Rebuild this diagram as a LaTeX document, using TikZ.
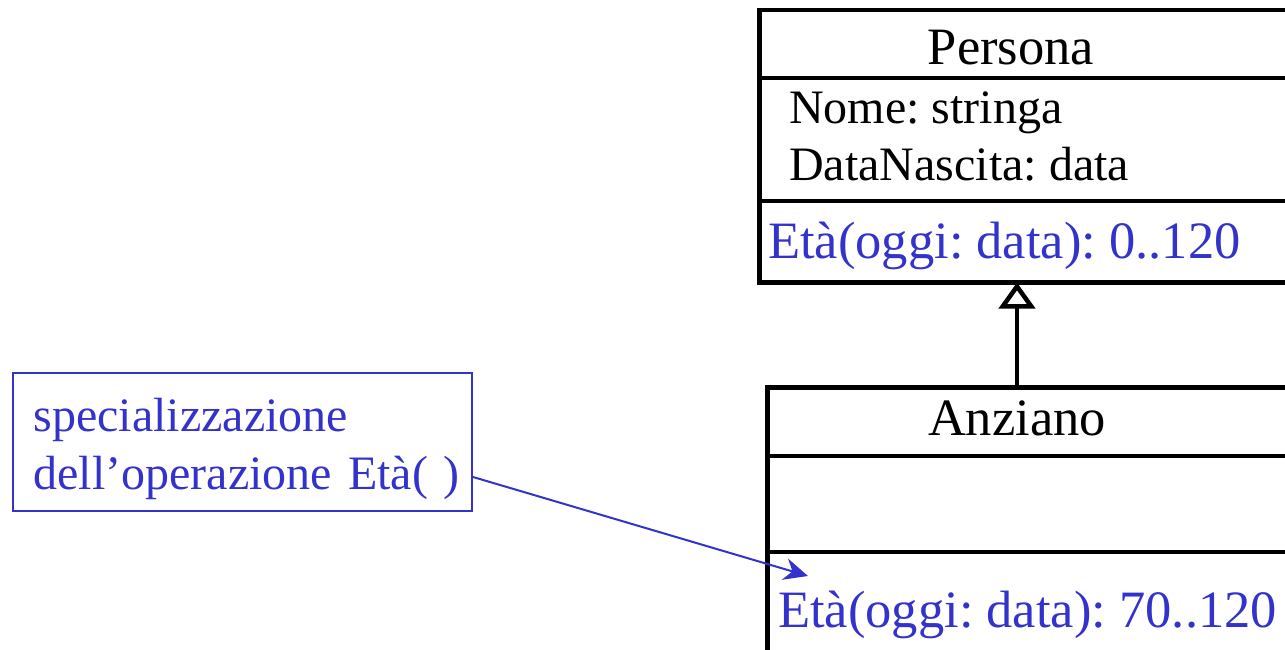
\documentclass[tikz,border=0pt]{standalone}
\usepackage{fontspec}
\setmainfont{Liberation Serif}
\usetikzlibrary{arrows.meta, positioning, calc}
\definecolor{opblue}{RGB}{51,51,204}

\begin{document}
\frenchspacing
\begin{tikzpicture}[
    x=1pt, y=-1pt,
    txt/.style={inner sep=0pt, font=\fontsize{52.5}{58}\selectfont},
    smalltxt/.style={inner sep=0pt, font=\fontsize{48}{58}\selectfont},
    classbox/.style={draw, line width=4.5pt, anchor=north west, minimum width=600pt},
    compline/.style={line width=4.5pt},
    optxt/.style={txt, text=opblue, anchor=base west},
    notebox/.style={draw=opblue, line width=2pt, smalltxt, text=opblue, anchor=north west,
                    text width=440pt, inner xsep=9.5pt, inner ysep=0pt, align=left,
                    minimum width=459pt, text height=58pt, text depth=80pt},
    inherit/.style={-{Triangle[open, length=26pt, width=36pt]}, line width=4.5pt},
    pointer/.style={-{Stealth[length=24pt, width=22pt]}, line width=2pt, opblue}
  ]
    \clip (0,0) rectangle (1285,650);

    % superclass
    \node[classbox, minimum height=272pt] (persona) at (757,8) {};
    \draw[compline] ($(persona.north west)+(0,70)$) -- ($(persona.north east)+(0,70)$);
    \draw[compline] ($(persona.north west)+(0,193)$) -- ($(persona.north east)+(0,193)$);
    \node[txt, anchor=base] (pername) at (1011,65) {Persona};
    \node[smalltxt, anchor=base west] (perattr1) at (789,124) {Nome: stringa};
    \node[smalltxt, anchor=base west] (perattr2) at (789,180) {DataNascita: data};
    \node[optxt] (perop) at (768,258) {Età(oggi: data): 0..120};

    % subclass
    \node[classbox, minimum height=400pt] (anziano) at (765,385) {};
    \draw[compline] ($(anziano.north west)+(0,71)$) -- ($(anziano.north east)+(0,71)$);
    \draw[compline] ($(anziano.north west)+(0,167)$) -- ($(anziano.north east)+(0,167)$);
    \node[txt, anchor=base] (anzname) at (1017,435) {Anziano};
    \node[optxt] (anzop) at (778,627) {Età(oggi: data): 70..120};

    \draw[inherit, shorten >=-2pt] (anzname.center |- anziano.north) -- (anzname.center |- persona.south);

    % note
    \node[notebox] (note) at (12,372) {\hspace*{11pt}specializzazione\\\hspace*{11pt}dell’operazione Età(~)};
    \coordinate (optip) at (808,576);
    \draw[pointer] ($(note.north east)+(0,105)$) -- (optip);
\end{tikzpicture}
\end{document}
